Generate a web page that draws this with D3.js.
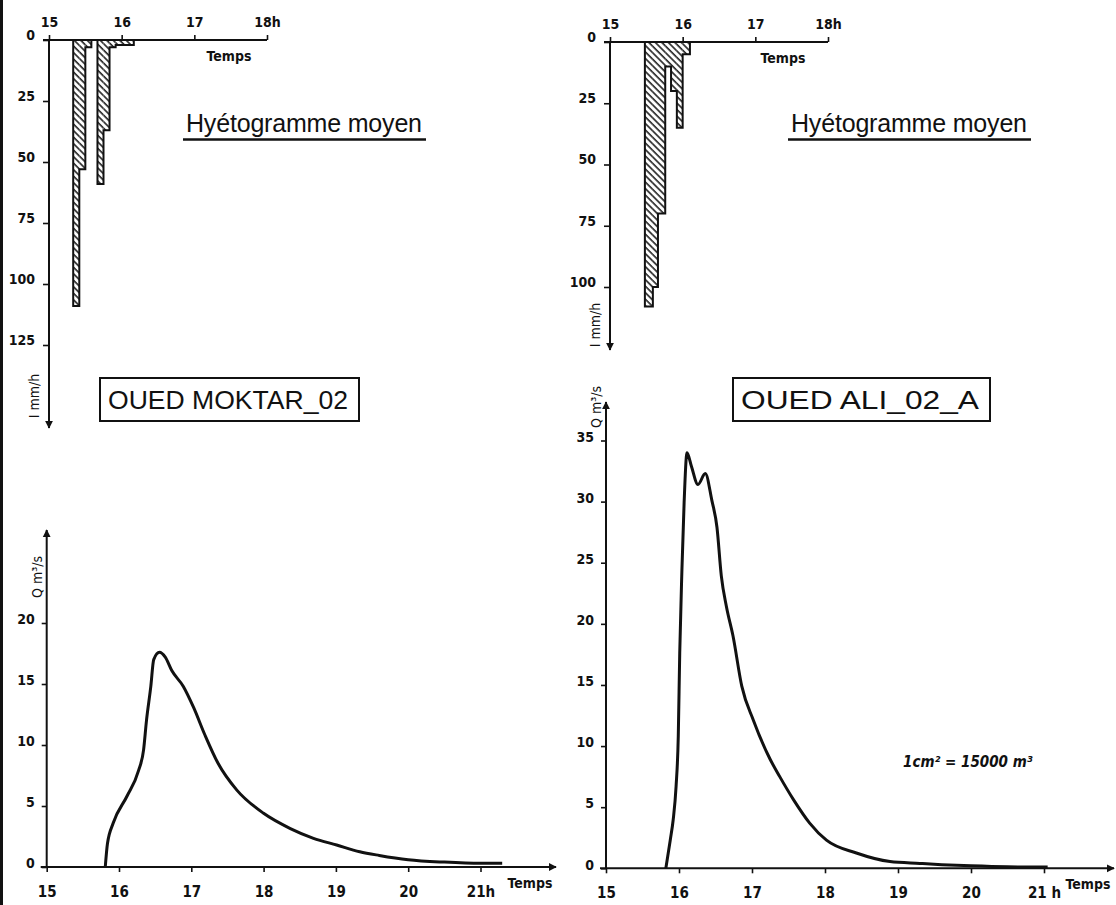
<!DOCTYPE html>
<html>
<head>
<meta charset="utf-8">
<script src="https://cdn.jsdelivr.net/npm/d3@7"></script>
<style>
body { margin: 0; background: #fff; }
svg text { font-family: "DejaVu Sans Condensed", "DejaVu Sans", sans-serif; fill: #111; }
.tick text { font-weight: bold; }
.lettering { font-family: "Liberation Sans", "DejaVu Sans", sans-serif; font-weight: normal; }
</style>
</head>
<body>
<svg id="chart" width="1116" height="905"></svg>
<script>
// ---- data ----
var hyetoHours = [15, 16, 17, 18];
var hyetoHourLabels = ["15", "16", "17", "18h"];
var moktarRainTicks = [0, 25, 50, 75, 100, 125];
var aliRainTicks = [0, 25, 50, 75, 100];

// rainfall intensity blocks (mm/h), start / end in decimal hours
var moktarRainStart = [15.333, 15.417, 15.5, 15.667, 15.75, 15.833, 15.917];
var moktarRainEnd   = [15.417, 15.5, 15.583, 15.75, 15.833, 15.917, 16.167];
var moktarRainMm    = [109, 53, 3, 59, 37, 3, 2];

var aliRainStart = [15.48, 15.59, 15.66, 15.76, 15.84, 15.92, 16.0];
var aliRainEnd   = [15.59, 15.66, 15.76, 15.84, 15.92, 16.0, 16.1];
var aliRainMm    = [108, 100, 70, 10, 20, 35, 5];

// hydrographs
var flowHours = [15, 16, 17, 18, 19, 20, 21];
var moktarHourLabels = ["15", "16", "17", "18", "19", "20", "21h"];
var aliHourLabels = ["15", "16", "17", "18", "19", "20", "21 h"];
var moktarFlowTicks = [0, 5, 10, 15, 20];
var aliFlowTicks = [0, 5, 10, 15, 20, 25, 30, 35];

var moktarFlowTime = [15.81, 15.84, 15.92, 16.11, 16.27, 16.34, 16.38, 16.44, 16.48, 16.56, 16.64, 16.73, 16.89, 17.03, 17.19, 17.37, 17.63, 18.0, 18.37, 18.69, 19.01, 19.33, 19.6, 20.0, 20.5, 21.0, 21.3];
var moktarFlowQ    = [0, 1.9, 3.6, 5.8, 7.9, 9.6, 12.0, 14.8, 17.0, 17.6, 17.2, 16.1, 14.8, 13.1, 10.8, 8.5, 6.3, 4.4, 3.15, 2.35, 1.8, 1.25, 0.95, 0.6, 0.4, 0.3, 0.3];

var aliFlowTime = [15.82, 15.88, 15.92, 15.96, 15.99, 16.01, 16.04, 16.07, 16.11, 16.17, 16.26, 16.36, 16.45, 16.52, 16.58, 16.65, 16.74, 16.86, 17.02, 17.25, 17.38, 17.57, 17.79, 18.02, 18.43, 18.89, 19.3, 19.6, 20.0, 20.5, 21.05];
var aliFlowQ    = [0, 2.3, 3.95, 6.7, 10.8, 17.6, 24.4, 29.9, 34.0, 32.9, 31.4, 32.3, 30.1, 27.9, 23.9, 21.4, 19.0, 14.9, 12.1, 8.9, 7.5, 5.6, 3.7, 2.3, 1.25, 0.55, 0.4, 0.3, 0.2, 0.12, 0.1];

//=================================================================

var svg = d3.select("#chart");
var defs = svg.append("defs");

// hatch for the rain blocks ("\" direction)
var hatch = defs.append("pattern")
    .attr("id", "hatch")
    .attr("patternUnits", "userSpaceOnUse")
    .attr("width", 4.6)
    .attr("height", 4.6)
    .attr("patternTransform", "rotate(-45)");
hatch.append("line")
    .attr("x1", 1).attr("y1", 0).attr("x2", 1).attr("y2", 4.6)
    .attr("stroke", "#111").attr("stroke-width", 1.5);

defs.append("marker")
    .attr("id", "arrow")
    .attr("viewBox", "0 0 10 10")
    .attr("refX", 9).attr("refY", 5)
    .attr("markerWidth", 4).attr("markerHeight", 5)
    .attr("markerUnits", "strokeWidth")
    .attr("orient", "auto")
    .append("path")
        .attr("d", "M0,0 L10,5 L0,10 Z")
        .attr("fill", "#111");

// scan border on the left
svg.append("rect").attr("x", 0).attr("y", 0).attr("width", 3).attr("height", 905).attr("fill", "#111");

function styleAxis(g, size) {
    g.select(".domain").remove();
    g.selectAll(".tick line").attr("stroke", "#111").attr("stroke-width", 1.6);
    g.selectAll(".tick text").attr("font-size", size);
}

function rainOutline(starts, ends, vals, x, y) {
    // outer outline of each run of touching blocks
    var p = d3.path();
    var i = 0;
    while (i < starts.length) {
        p.moveTo(x(starts[i]), y(0));
        var j = i;
        while (true) {
            p.lineTo(x(starts[j]), y(vals[j]));
            p.lineTo(x(ends[j]), y(vals[j]));
            if (j + 1 < starts.length && Math.abs(starts[j + 1] - ends[j]) < 0.01) { j++; }
            else break;
        }
        p.lineTo(x(ends[j]), y(0));
        i = j + 1;
    }
    return p.toString();
}

function drawHyeto(c) {
    var x = d3.scaleLinear().domain([15, 18]).range([c.left, c.right]);
    var y = d3.scaleLinear().domain([0, c.ymax]).range([c.top, c.bottom]);

    // blocks
    svg.append("g").selectAll("rect")
        .data(c.mm)
        .enter()
        .append("rect")
            .attr("x", function(d, i) { return x(c.start[i]); })
            .attr("y", y(0))
            .attr("width", function(d, i) { return x(c.end[i]) - x(c.start[i]); })
            .attr("height", function(d) { return y(d) - y(0); })
            .attr("fill", "url(#hatch)");
    svg.append("path")
        .attr("d", rainOutline(c.start, c.end, c.mm, x, y))
        .attr("fill", "none")
        .attr("stroke", "#111")
        .attr("stroke-width", 2)
        .attr("stroke-linejoin", "miter");

    // time axis on top
    var gx = svg.append("g")
        .attr("transform", "translate(0," + c.top + ")")
        .call(d3.axisTop(x).tickValues(hyetoHours)
            .tickFormat(function(d, i) { return hyetoHourLabels[i]; })
            .tickSize(5).tickPadding(8));
    styleAxis(gx, 14);
    svg.append("line")
        .attr("x1", c.left - 6).attr("x2", c.right)
        .attr("y1", c.top).attr("y2", c.top)
        .attr("stroke", "#111").attr("stroke-width", 2);

    // intensity axis pointing down
    var gy = svg.append("g")
        .attr("transform", "translate(" + c.left + ",0)")
        .call(d3.axisLeft(y).tickValues(c.ticks).tickSize(6).tickPadding(8));
    styleAxis(gy, 14);
    gy.selectAll(".tick text").attr("dy", "-0.05em");
    svg.append("line")
        .attr("x1", c.left).attr("x2", c.left)
        .attr("y1", c.top).attr("y2", c.arrowEnd)
        .attr("stroke", "#111").attr("stroke-width", 2)
        .attr("marker-end", "url(#arrow)");

    svg.append("text")
        .attr("x", c.tempsX).attr("y", c.top + 21)
        .attr("text-anchor", "middle")
        .attr("font-size", 14).attr("font-weight", "bold")
        .text("Temps");

    svg.append("text")
        .attr("transform", "translate(" + (c.left - 10) + "," + c.unitY + ") rotate(-90)")
        .attr("text-anchor", "middle")
        .attr("font-size", 14)
        .text("I mm/h");

    // title of the block diagram
    svg.append("text")
        .attr("class", "lettering")
        .attr("x", c.titleX).attr("y", 132)
        .attr("font-size", 25)
        .attr("textLength", 236)
        .text("Hyétogramme  moyen");
    svg.append("line")
        .attr("x1", c.titleX - 3).attr("x2", c.titleX + 240)
        .attr("y1", 139.5).attr("y2", 139.5)
        .attr("stroke", "#111").attr("stroke-width", 2.6);
}

function drawHydro(c) {
    var x = d3.scaleLinear().domain([15, 21]).range([c.left, c.right]);
    var y = d3.scaleLinear().domain([0, c.ymax]).range([c.base, c.ytop]);

    var gx = svg.append("g")
        .attr("transform", "translate(0," + c.base + ")")
        .call(d3.axisBottom(x).tickValues(flowHours)
            .tickFormat(function(d, i) { return c.hourLabels[i]; })
            .tickSize(5).tickPadding(14));
    styleAxis(gx, 15);
    svg.append("line")
        .attr("x1", c.left - 6).attr("x2", c.arrowX)
        .attr("y1", c.base).attr("y2", c.base)
        .attr("stroke", "#111").attr("stroke-width", 2)
        .attr("marker-end", "url(#arrow)");

    var gy = svg.append("g")
        .attr("transform", "translate(" + c.left + ",0)")
        .call(d3.axisLeft(y).tickValues(c.ticks).tickSize(5).tickPadding(7));
    styleAxis(gy, 14);
    gy.selectAll(".tick text").attr("dy", "0.05em");
    svg.append("line")
        .attr("x1", c.left).attr("x2", c.left)
        .attr("y1", c.base).attr("y2", c.arrowY)
        .attr("stroke", "#111").attr("stroke-width", 2)
        .attr("marker-end", "url(#arrow)");

    svg.append("text")
        .attr("x", c.arrowX - 26).attr("y", c.base + 21)
        .attr("text-anchor", "middle")
        .attr("font-size", 14).attr("font-weight", "bold")
        .text("Temps");

    svg.append("text")
        .attr("transform", "translate(" + (c.left - 5) + "," + c.unitY + ") rotate(-90)")
        .attr("text-anchor", "middle")
        .attr("font-size", 14)
        .text("Q m³/s");

    var line = d3.line()
        .x(function(d, i) { return x(c.time[i]); })
        .y(function(d) { return y(d); })
        .curve(d3.curveMonotoneX);
    svg.append("path")
        .datum(c.q)
        .attr("d", line)
        .attr("fill", "none")
        .attr("stroke", "#111")
        .attr("stroke-width", 3)
        .attr("stroke-linejoin", "round");
}

function drawBox(x0, x1, label) {
    svg.append("rect")
        .attr("x", x0).attr("y", 378)
        .attr("width", x1 - x0).attr("height", 43)
        .attr("fill", "none").attr("stroke", "#111").attr("stroke-width", 2);
    svg.append("text")
        .attr("class", "lettering")
        .attr("x", x0 + 8).attr("y", 409)
        .attr("font-size", 25)
        .attr("textLength", x1 - x0 - 19)
        .attr("lengthAdjust", "spacingAndGlyphs")
        .text(label);
}

drawHyeto({ left: 49, right: 267, top: 40, bottom: 345, ymax: 125, ticks: moktarRainTicks,
    arrowEnd: 428, start: moktarRainStart, end: moktarRainEnd, mm: moktarRainMm,
    tempsX: 229, unitY: 396, titleX: 186 });
drawHyeto({ left: 610, right: 828, top: 42, bottom: 287, ymax: 100, ticks: aliRainTicks,
    arrowEnd: 350, start: aliRainStart, end: aliRainEnd, mm: aliRainMm,
    tempsX: 783, unitY: 325, titleX: 791 });

drawHydro({ left: 46.7, right: 480.5, base: 867, ytop: 623, ymax: 20, ticks: moktarFlowTicks,
    arrowX: 556, arrowY: 530, hourLabels: moktarHourLabels, time: moktarFlowTime, q: moktarFlowQ,
    unitY: 577 });
drawHydro({ left: 606, right: 1044, base: 868.3, ytop: 440.5, ymax: 35, ticks: aliFlowTicks,
    arrowX: 1114, arrowY: 402, hourLabels: aliHourLabels, time: aliFlowTime, q: aliFlowQ,
    unitY: 407 });

drawBox(100, 359, "OUED MOKTAR_02");
drawBox(733, 990, "OUED ALI_02_A");

svg.append("text")
    .attr("x", 903).attr("y", 767)
    .attr("font-size", 15).attr("font-weight", "bold").attr("font-style", "italic")
    .text("1cm² = 15000 m³");
</script>
</body>
</html>
